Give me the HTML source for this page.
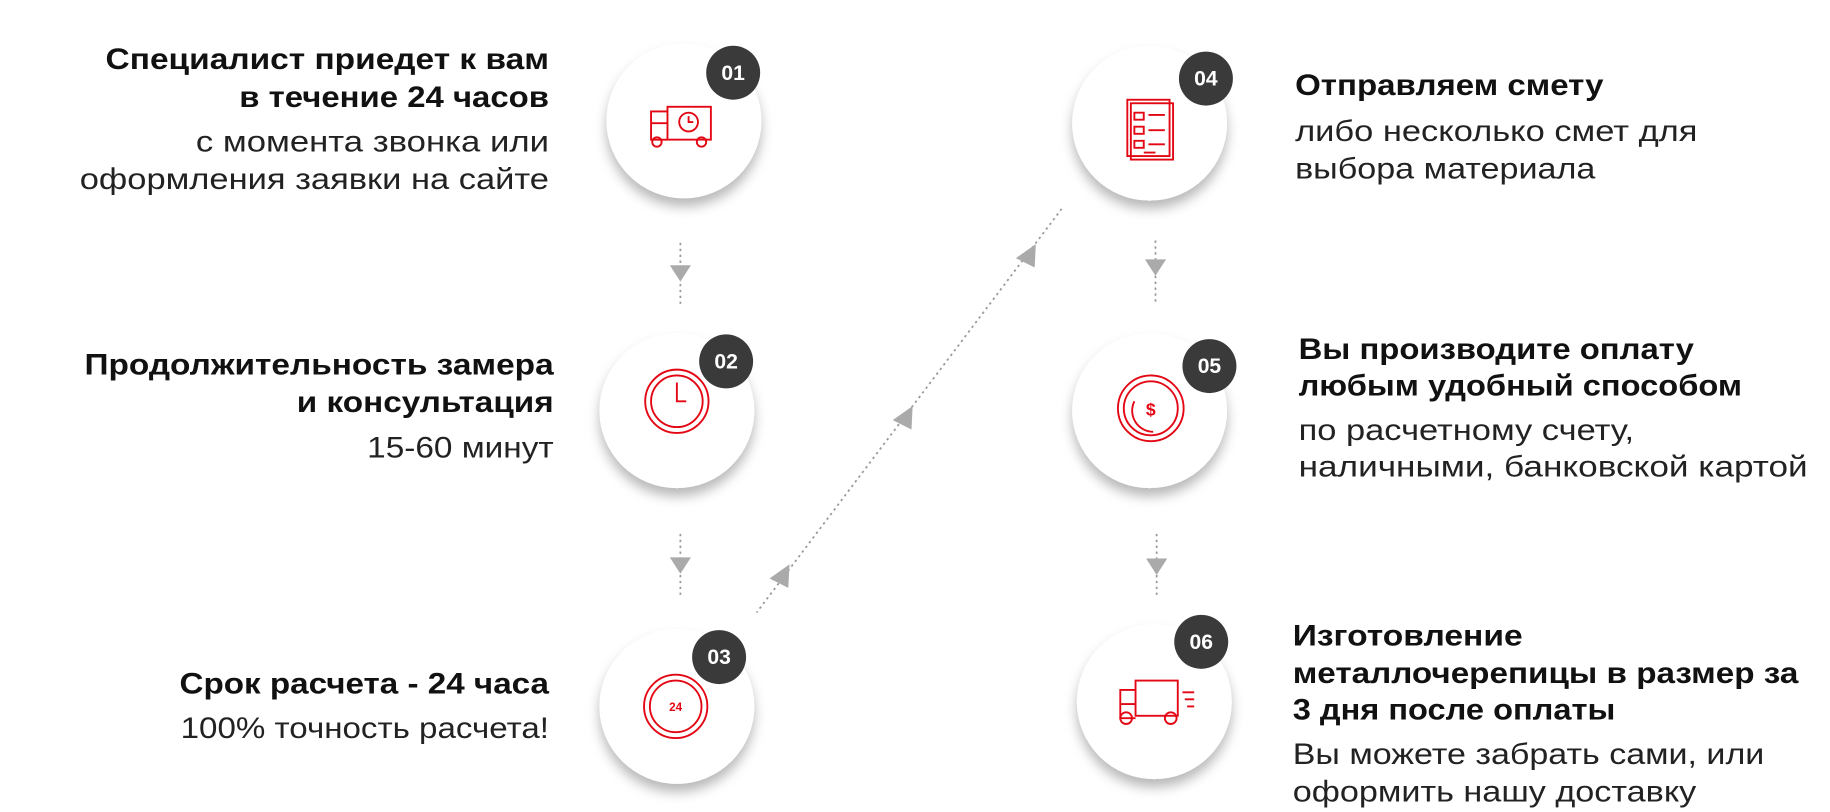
<!DOCTYPE html>
<html><head><meta charset="utf-8"><style>
html,body{margin:0;padding:0;background:#fff;}
svg{display:block}
.b{font-family:"Liberation Sans",sans-serif;font-weight:bold;font-size:25px;fill:#111}
.r{font-family:"Liberation Sans",sans-serif;font-size:25px;fill:#222}
.n{font-family:"Liberation Sans",sans-serif;font-weight:bold;font-size:18px;fill:#fff}
.ic{fill:none;stroke:#e30613;stroke-width:1.6}
.d{stroke:#999;stroke-width:1.5;stroke-dasharray:2 3;fill:none}
</style></head><body>
<svg width="1830" height="812" viewBox="0 0 1560 692" preserveAspectRatio="none">
<defs>
<filter id="sh" x="-40%" y="-40%" width="180%" height="190%">
<feDropShadow dx="0" dy="7" stdDeviation="5" flood-color="#000" flood-opacity="0.28"/>
</filter>
</defs>

<!-- connectors -->
<g>
<line class="d" x1="580" y1="207" x2="580" y2="260"/><polygon points="571,226 589,226 580,240" fill="#aaa"/>
<line class="d" x1="580" y1="455" x2="580" y2="510"/><polygon points="571,475 589,475 580,489" fill="#aaa"/>
<line class="d" x1="985" y1="205" x2="985" y2="258"/><polygon points="976,221 994,221 985,235" fill="#aaa"/>
<line class="d" x1="986" y1="455" x2="986" y2="510"/><polygon points="977,476 995,476 986,490" fill="#aaa"/>
<line class="d" x1="905" y1="178" x2="645" y2="522"/>
<g fill="#aaa">
<polygon points="883,208 866,220 882,228"/>
<polygon points="778,346 761,358 777,366"/>
<polygon points="673,481 656,493 672,501"/>
</g>
</g>

<!-- circles -->
<g filter="url(#sh)" fill="#fff">
<circle cx="583" cy="103" r="66"/>
<circle cx="577" cy="350" r="66"/>
<circle cx="577" cy="602" r="66"/>
<circle cx="980" cy="105" r="66"/>
<circle cx="980" cy="350" r="66"/>
<circle cx="984" cy="598" r="66"/>
</g>

<!-- badges -->
<g fill="#3a3a3a">
<circle cx="625" cy="62" r="23"/>
<circle cx="619" cy="308" r="23"/>
<circle cx="613" cy="560" r="23"/>
<circle cx="1028" cy="67" r="23"/>
<circle cx="1031" cy="312" r="23"/>
<circle cx="1024" cy="547" r="23"/>
</g>
<g class="n" text-anchor="middle">
<text x="625" y="68">01</text>
<text x="619" y="314">02</text>
<text x="613" y="566">03</text>
<text x="1028" y="73">04</text>
<text x="1031" y="318">05</text>
<text x="1024" y="553">06</text>
</g>

<!-- icons -->
<g class="ic">
<!-- truck 01 -->
<rect x="569" y="91" width="37" height="28"/>
<circle cx="587" cy="104" r="8"/><path d="M587 99v5h4"/>
<path d="M569 95h-14v24h14M555 105h14"/>
<circle cx="560" cy="121" r="4"/><circle cx="598" cy="121" r="4"/>
<!-- clock 02 -->
<circle cx="577" cy="342" r="27"/><circle cx="577" cy="342" r="22"/>
<path d="M577 326v16h8"/>
<!-- 24 03 -->
<circle cx="576" cy="602" r="27"/><circle cx="576" cy="602" r="22"/>
<!-- doc 04 -->
<rect x="961" y="85" width="36" height="48"/><rect x="964" y="88" width="36" height="48"/>
<path d="M967 96h8v6h-8zM967 108h8v6h-8zM967 120h8v6h-8zM979 98h14M979 111h14M979 123h14M975 130h10"/>
<!-- coin 05 -->
<circle cx="981" cy="348" r="28"/><circle cx="981" cy="348" r="23"/>
<path d="M967 342a18 18 0 0 0 16 26"/>
<!-- truck 06 -->
<rect x="968" y="580" width="36" height="30"/>
<path d="M968 588h-13v24h13M955 600h13M1008 590h10M1010 596h8M1012 602h6"/>
<circle cx="960" cy="612" r="5"/><circle cx="998" cy="612" r="5"/>
</g>
<text x="981" y="354" text-anchor="middle" font-family="Liberation Sans,sans-serif" font-weight="bold" font-size="15" fill="#e30613">$</text>
<text x="576" y="606" text-anchor="middle" font-family="Liberation Sans,sans-serif" font-weight="bold" font-size="10" fill="#e30613">24</text>

<!-- left texts -->
<g text-anchor="end">
<text class="b" x="468" y="59" textLength="378" lengthAdjust="spacingAndGlyphs">Специалист приедет к вам</text>
<text class="b" x="468" y="91" textLength="264" lengthAdjust="spacingAndGlyphs">в течение 24 часов</text>
<text class="r" x="468" y="129" textLength="301" lengthAdjust="spacingAndGlyphs">с момента звонка или</text>
<text class="r" x="468" y="161" textLength="400" lengthAdjust="spacingAndGlyphs">оформления заявки на сайте</text>
<text class="b" x="472" y="319" textLength="400" lengthAdjust="spacingAndGlyphs">Продолжительность замера</text>
<text class="b" x="472" y="351" textLength="219" lengthAdjust="spacingAndGlyphs">и консультация</text>
<text class="r" x="472" y="390" textLength="159" lengthAdjust="spacingAndGlyphs">15-60 минут</text>
<text class="b" x="468" y="591" textLength="315" lengthAdjust="spacingAndGlyphs">Срок расчета - 24 часа</text>
<text class="r" x="468" y="629" textLength="314" lengthAdjust="spacingAndGlyphs">100% точность расчета!</text>
</g>
<!-- right texts -->
<g>
<text class="b" x="1104" y="81" textLength="263" lengthAdjust="spacingAndGlyphs">Отправляем смету</text>
<text class="r" x="1104" y="120" textLength="343" lengthAdjust="spacingAndGlyphs">либо несколько смет для</text>
<text class="r" x="1104" y="152" textLength="256" lengthAdjust="spacingAndGlyphs">выбора материала</text>
<text class="b" x="1107" y="306" textLength="337" lengthAdjust="spacingAndGlyphs">Вы производите оплату</text>
<text class="b" x="1107" y="337" textLength="378" lengthAdjust="spacingAndGlyphs">любым удобный способом</text>
<text class="r" x="1107" y="375" textLength="286" lengthAdjust="spacingAndGlyphs">по расчетному счету,</text>
<text class="r" x="1107" y="406" textLength="434" lengthAdjust="spacingAndGlyphs">наличными, банковской картой</text>
<text class="b" x="1102" y="550" textLength="196" lengthAdjust="spacingAndGlyphs">Изготовление</text>
<text class="b" x="1102" y="582" textLength="431" lengthAdjust="spacingAndGlyphs">металлочерепицы в размер за</text>
<text class="b" x="1102" y="613" textLength="275" lengthAdjust="spacingAndGlyphs">3 дня после оплаты</text>
<text class="r" x="1102" y="651" textLength="402" lengthAdjust="spacingAndGlyphs">Вы можете забрать сами, или</text>
<text class="r" x="1102" y="683" textLength="344" lengthAdjust="spacingAndGlyphs">оформить нашу доставку</text>
</g>
</svg>
</body></html>
